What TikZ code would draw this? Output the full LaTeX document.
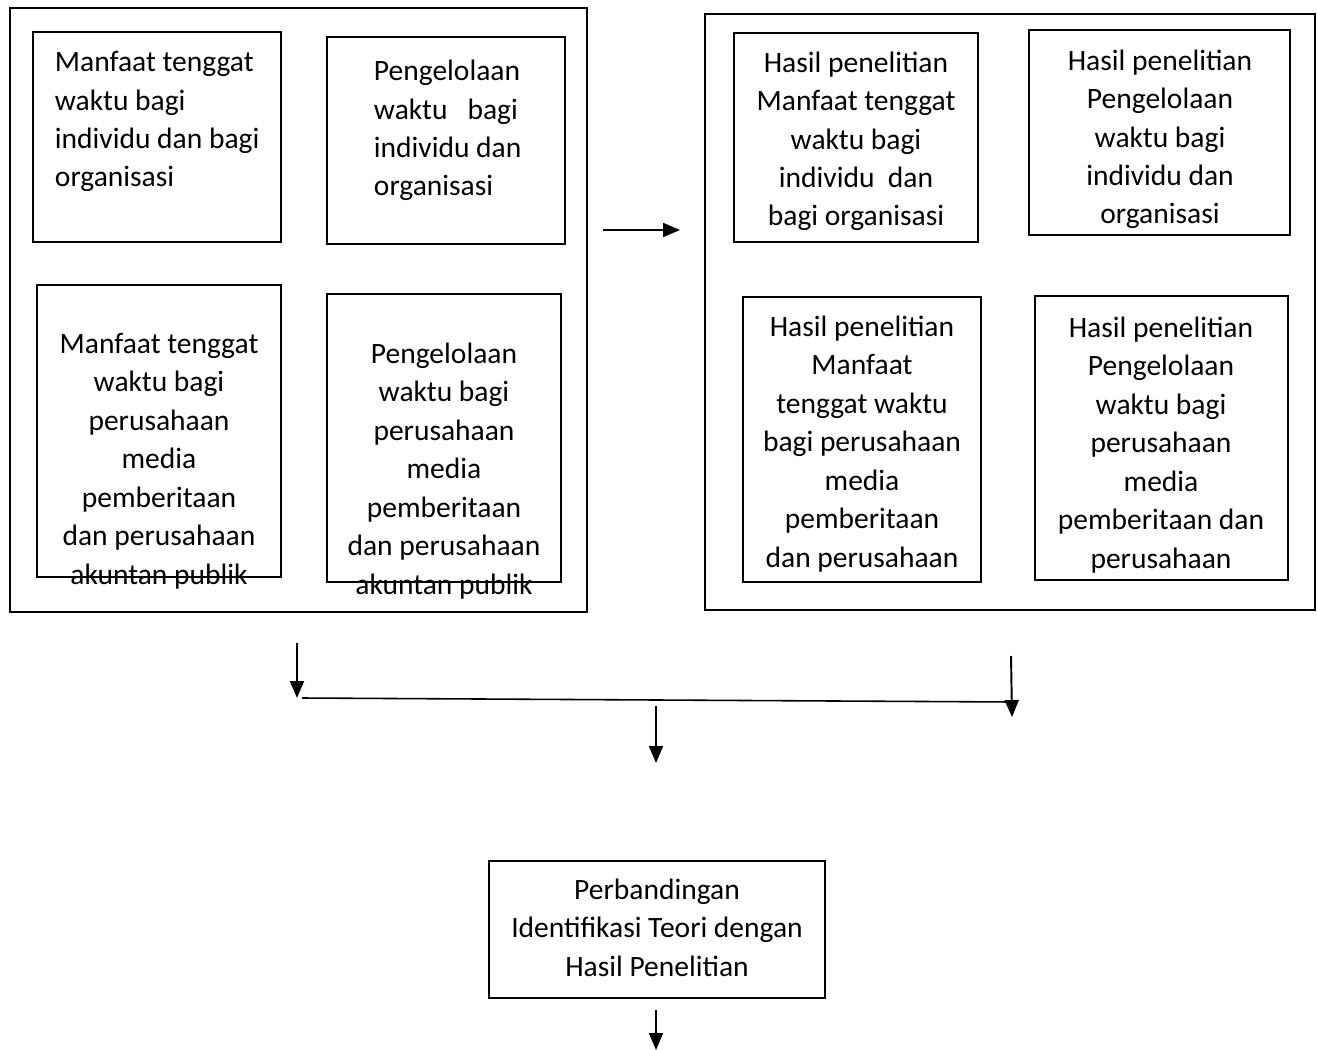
\documentclass[tikz,border=0pt]{standalone}
\usepackage{fontspec}
\setmainfont{Carlito}
\usetikzlibrary{arrows.meta,positioning,fit}

\begin{document}
\begin{tikzpicture}[x=0.02cm, y=-0.02cm, line width=1.1pt,
                    >={Triangle[length=3.4mm, width=2.8mm]}]
      \useasboundingbox (0,0) rectangle (1317,1050);

      % kotak luar dan kotak isi
      \begin{scope}[every node/.style={rectangle, draw, inner sep=0pt}]
          \node[fit={(10,8) (587,612)}] (teori) {};
          \node[fit={(705,14) (1315,610)}] (hasil) {};
          \node[fit={(33,32) (281,242)}] (T1) {};
          \node[fit={(327,37) (565,244)}] (T2) {};
          \node[fit={(37,285) (281,577)}] (T3) {};
          \node[fit={(327,294) (561,582)}] (T4) {};
          \node[fit={(734,33) (978,242)}] (H1) {};
          \node[fit={(1029,30) (1290,235)}] (H2) {};
          \node[fit={(743,297) (981,582)}] (H3) {};
          \node[fit={(1035,296) (1288,580)}] (H4) {};
          \node[fit={(489,861) (825,998)}] (banding) {};
      \end{scope}

      % teks (anchor base = garis dasar baris terakhir)
      \begin{scope}[every node/.style={inner sep=0pt, align=center, anchor=base,
                    font=\fontsize{16.8}{21.9}\selectfont}]
          \node[anchor=base west, align=left] (t1) at (54,187)
              {Manfaat tenggat\\waktu bagi\\individu dan bagi\\organisasi};
          \node[anchor=base west, align=left] (t2) at (373,196)
              {Pengelolaan\\waktu~~~bagi\\individu dan\\organisasi};
          \node (t3) at (159,584)
              {Manfaat tenggat\\waktu bagi\\perusahaan\\media\\pemberitaan\\dan perusahaan\\akuntan publik};
          \node (t4) at (444,594)
              {Pengelolaan\\waktu bagi\\perusahaan\\media\\pemberitaan\\dan perusahaan\\akuntan publik};
          \node (h1) at (856,226)
              {Hasil penelitian\\Manfaat tenggat\\waktu bagi\\individu~ dan\\bagi organisasi};
          \node (h2) at (1160,224)
              {Hasil penelitian\\Pengelolaan\\waktu bagi\\individu dan\\organisasi};
          \node (h3) at (862,567)
              {Hasil penelitian\\Manfaat\\tenggat waktu\\bagi perusahaan\\media\\pemberitaan\\dan perusahaan};
          \node (h4) at (1161,568)
              {Hasil penelitian\\Pengelolaan\\waktu bagi\\perusahaan\\media\\pemberitaan dan\\perusahaan};
          \node (b1) at (657,976)
              {Perbandingan\\Identifikasi Teori dengan\\Hasil Penelitian};
      \end{scope}

      % panah
      \coordinate (kanan1) at (603,230);
      \coordinate (kanan2) at (680,230);
      \coordinate (kiri1) at (297,643);
      \coordinate (kiri2) at (297,698);
      \coordinate (garis1) at (302,698);
      \coordinate (garis2) at (1012,702);
      \coordinate (ujung1) at (1011,656);
      \coordinate (ujung2) at (1012,717);
      \coordinate (tengah1) at (656,706);
      \coordinate (tengah2) at (656,763);
      \coordinate (bawah1) at (656,1010);
      \coordinate (bawah2) at (656,1050);

      \begin{scope}[every edge/.style={draw}]
        \path [->] (kanan1) edge (kanan2);
        \path [->] (kiri1) edge (kiri2);
        \path [->] (ujung1) edge (ujung2);
        \path [->] (tengah1) edge (tengah2);
        \path [->] (bawah1) edge (bawah2);
        \draw [line width=0.9pt] (garis1) -- (garis2);
      \end{scope}
\end{tikzpicture}
\end{document}
